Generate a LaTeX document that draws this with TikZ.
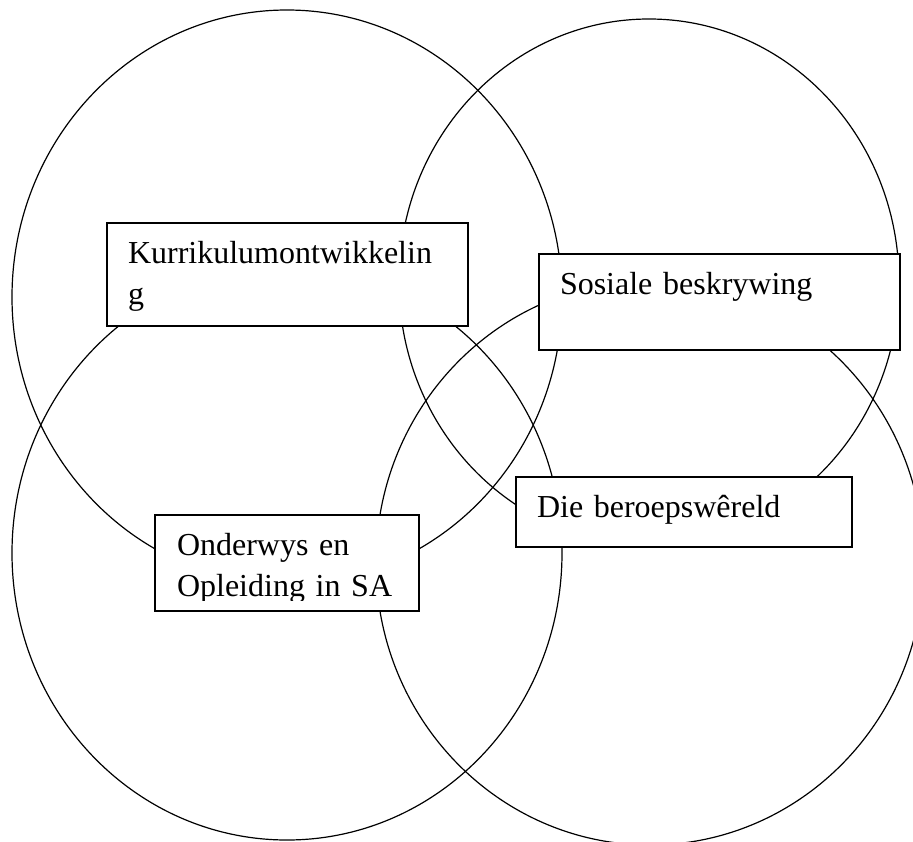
\documentclass[tikz,border=0pt]{standalone}
\usepackage{fontspec}
\setmainfont{Liberation Serif}
\newcommand\boxfont{\fontsize{32}{41}\selectfont}

\tikzset{
  ring/.style={draw, line width=1.2pt},
  tbox/.style={draw, line width=2pt, fill=white, outer sep=0pt, inner sep=0pt,
    inner xsep=21pt, align=left, anchor=north west, text height=40pt, font=\boxfont},
  boxtext/.style={draw=none, fill=none, inner sep=0pt, align=left,
    anchor=north west, text height=40pt, font=\boxfont},
}

\begin{document}
\begin{tikzpicture}[x=1pt, y=-1pt]
  \useasboundingbox (0,0) rectangle (913,841);

  % the four rings
  \draw[ring] (287,297) ellipse [x radius=275pt, y radius=287pt];
  \draw[ring] (649,282) ellipse [x radius=250pt, y radius=263pt];
  \draw[ring] (287,553) ellipse [x radius=275pt, y radius=287pt];
  \draw[ring] (650,563) ellipse [x radius=274pt, y radius=282pt];

  % text boxes
  \node[tbox, text width=319pt, text depth=63pt] (kurr) at (107,223) {Kurrikulumontwikkelin\\g};
  \node[tbox, text width=319pt, text depth=56pt] (sos) at (539,254) {Sosiale beskrywing};
  \node[tbox, text width=294pt, text depth=30pt] (beroep) at (516,477) {Die beroepswêreld};
  \node[tbox, text width=222pt, text depth=56pt, path picture={
      \clip (path picture bounding box.north west)
        rectangle ([yshift=11pt]path picture bounding box.south east);
      \node[boxtext, text width=222pt] (ondtext) at ([xshift=22pt]path picture bounding box.north west)
        {Onderwys en\\Opleiding in SA};
    }] (ond) at (155,515) {};
\end{tikzpicture}
\end{document}
